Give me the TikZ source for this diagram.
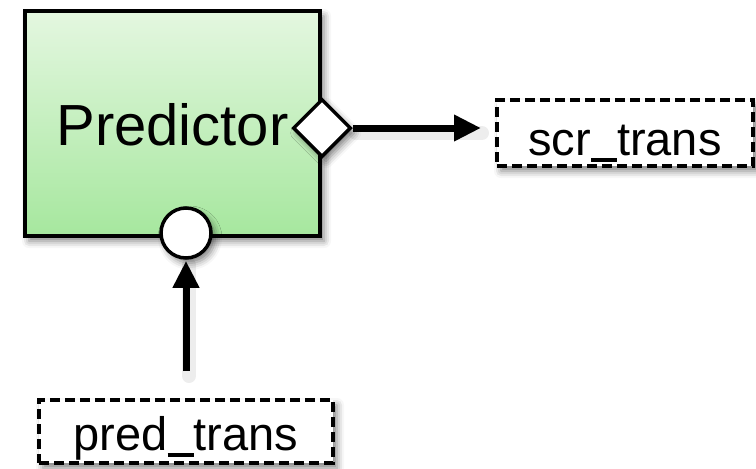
\documentclass[tikz,border=0pt]{standalone}
\usepackage{fontspec}
\setmainfont{Liberation Sans}
\usetikzlibrary{arrows.meta,shapes.geometric,shadows.blur}

\definecolor{boxtop}{RGB}{228,247,224}
\definecolor{boxbottom}{RGB}{166,231,158}

% a slightly raised underscore, as in the signal names
\newcommand{\usc}{\rule[-0.15em]{0.556em}{0.08em}}

\tikzset{
  softshadow/.style={blur shadow={shadow xshift=4pt, shadow yshift=-5pt,
      shadow blur radius=7pt, shadow opacity=50}},
  component/.style={draw=black, line width=4pt, top color=boxtop,
      bottom color=boxbottom, inner sep=0pt, softshadow,
      font=\fontsize{58}{60}\selectfont},
  dataport/.style={draw=black, fill=white, line width=3.5pt, inner sep=0pt},
  signal/.style={draw=black, dash pattern=on 10pt off 5pt, line width=4pt,
      fill=white, inner sep=0pt, softshadow, font=\fontsize{47}{50}\selectfont},
  flow/.style={line width=7pt, -{Triangle[length=27pt,width=25pt]}},
  flowshadow/.style={line width=14pt, black, opacity=0.07, line cap=round},
}

\begin{document}
\begin{tikzpicture}[x=1pt,y=1pt]
  \useasboundingbox (0,0) rectangle (756,-469);

  % main component with its two ports
  \node[component, minimum width=295pt, minimum height=225pt,
        text height=45pt, text depth=2pt] (pred) at (172.5,-123.5) {Predictor};
  \node[dataport, diamond, minimum width=58pt, minimum height=58pt,
        softshadow] (out) at (322,-128) {};
  \node[dataport, circle, minimum size=50pt, softshadow] (in) at (186,-233) {};

  % signals
  \node[signal, minimum width=256pt, minimum height=66pt,
        text height=46pt, text depth=2pt] (scr) at (625,-133) {scr\usc trans};
  \node[signal, minimum width=294pt, minimum height=63pt,
        text height=40pt, text depth=3pt] (ptr) at (186,-431.5) {pred\usc trans};

  % connector shadows
  \begin{scope}[transform canvas={xshift=3pt, yshift=-5pt}]
    \draw[flowshadow] (out.east) -- ([xshift=-16pt]scr.west |- out.east);
    \draw[flowshadow] ([yshift=27pt]ptr.north) -- (in.south);
  \end{scope}

  % connectors
  \draw[flow, shorten >=14pt] (out.east) -- (scr.west |- out.east);
  \draw[flow, shorten <=27pt, shorten >=1pt] (ptr.north) -- (in.south);
\end{tikzpicture}
\end{document}
